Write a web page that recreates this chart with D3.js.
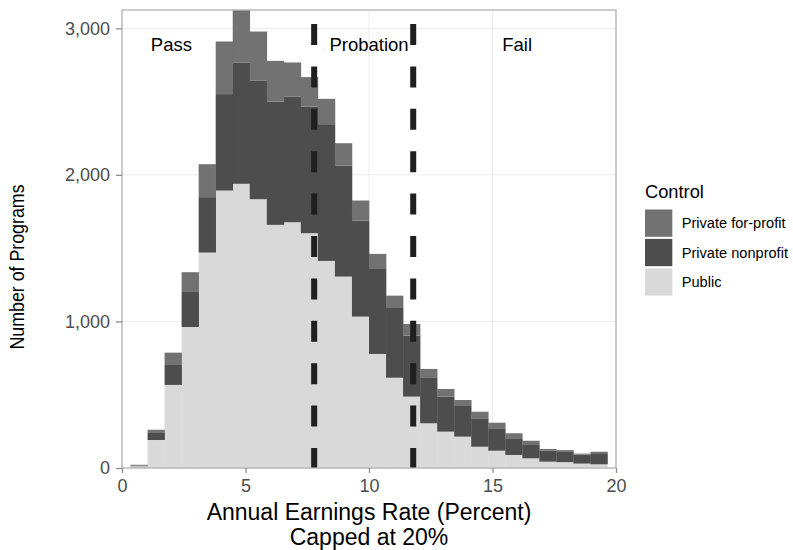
<!DOCTYPE html>
<html>
<head>
<meta charset="utf-8">
<script src="https://cdn.jsdelivr.net/npm/d3@7"></script>
<style>
  body { margin: 0; background: #fff; }
  svg { display: block; font-family: "Liberation Sans", Arial, sans-serif; }
</style>
</head>
<body>
<svg id="chart" width="793" height="550"></svg>
<script>
// ---- data ----
const binStarts = [0.3448, 1.0345, 1.7241, 2.4138, 3.1034, 3.7931, 4.4828, 5.1724, 5.8621, 6.5517,
                   7.2414, 7.9310, 8.6207, 9.3103, 10.0000, 10.6897, 11.3793, 12.0690, 12.7586, 13.4483,
                   14.1379, 14.8276, 15.5172, 16.2069, 16.8966, 17.5862, 18.2759, 18.9655];
const binWidth = 0.68966;
const publicVals    = [12, 191, 567, 962, 1470, 1893, 1939, 1834, 1659, 1677, 1602, 1413, 1306, 1033, 778, 616, 487, 305, 248, 214, 145, 118, 89, 66, 43, 40, 30, 25];
const nonprofitVals = [4, 48, 136, 239, 378, 658, 828, 808, 841, 858, 864, 933, 758, 655, 585, 481, 416, 314, 239, 209, 194, 153, 114, 91, 75, 74, 61, 76];
const forprofitVals = [6, 22, 84, 135, 225, 359, 358, 336, 278, 232, 201, 173, 152, 137, 98, 79, 80, 57, 52, 41, 45, 38, 34, 29, 12, 8, 7, 10];
const seriesNames = ["Public", "Private nonprofit", "Private for-profit"]; // bottom to top
const legendOrder = ["Private for-profit", "Private nonprofit", "Public"];
const colors = {"Private for-profit": "#727272", "Private nonprofit": "#4d4d4d", "Public": "#d9d9d9"};
const thresholds = [7.78, 11.79];
const zoneLabels = [{x: 2, label: "Pass"}, {x: 10, label: "Probation"}, {x: 16, label: "Fail"}];
const zoneLabelY = 2900;
const xTicks = [0, 5, 10, 15, 20];
const yTicks = [0, 1000, 2000, 3000];
const xTitleLines = ["Annual Earnings Rate (Percent)", "Capped at 20%"];
const yTitle = "Number of Programs";

// ---- layout ----
const panel = {left: 122, right: 616, top: 10, bottom: 468};
const svg = d3.select("#chart");

const rows = binStarts.map((s, i) => ({
  x0: s, x1: s + binWidth,
  "Public": publicVals[i],
  "Private nonprofit": nonprofitVals[i],
  "Private for-profit": forprofitVals[i]
}));
const stacked = d3.stack().keys(seriesNames)(rows);
const yMax = d3.max(rows, r => r["Public"] + r["Private nonprofit"] + r["Private for-profit"]);

const x = d3.scaleLinear().domain([0, 20]).range([panel.left, panel.right]);
const y = d3.scaleLinear().domain([0, yMax]).range([panel.bottom, panel.top]);

// grid
const grid = svg.append("g");
grid.selectAll("line.gx").data(xTicks).join("line")
  .attr("x1", d => x(d)).attr("x2", d => x(d))
  .attr("y1", panel.top).attr("y2", panel.bottom)
  .attr("stroke", "#ebebeb").attr("stroke-width", 1);
grid.selectAll("line.gy").data(yTicks).join("line")
  .attr("x1", panel.left).attr("x2", panel.right)
  .attr("y1", d => y(d)).attr("y2", d => y(d))
  .attr("stroke", "#ebebeb").attr("stroke-width", 1);

// clip
svg.append("clipPath").attr("id", "clip").append("rect")
  .attr("x", panel.left).attr("y", panel.top)
  .attr("width", panel.right - panel.left).attr("height", panel.bottom - panel.top);

const plot = svg.append("g").attr("clip-path", "url(#clip)");

// bars
plot.selectAll("g.layer").data(stacked).join("g")
  .attr("fill", d => colors[d.key])
  .selectAll("rect").data(d => d).join("rect")
  .attr("x", d => x(d.data.x0))
  .attr("width", d => x(d.data.x1) - x(d.data.x0) + 0.3)
  .attr("y", d => y(d[1]))
  .attr("height", d => y(d[0]) - y(d[1]));

// dashed thresholds
plot.selectAll("line.th").data(thresholds).join("line")
  .attr("x1", d => x(d)).attr("x2", d => x(d))
  .attr("y1", panel.bottom + 1).attr("y2", panel.top)
  .attr("stroke", "#1f1f1f").attr("stroke-width", 6)
  .attr("stroke-dasharray", "21,21.4");

// zone labels
svg.selectAll("text.zone").data(zoneLabels).join("text")
  .attr("x", d => x(d.x)).attr("y", y(zoneLabelY)).attr("dy", "0.45em")
  .attr("text-anchor", "middle").attr("font-size", 18.5).attr("fill", "#000")
  .text(d => d.label);

// panel border
svg.append("rect")
  .attr("x", panel.left).attr("y", panel.top)
  .attr("width", panel.right - panel.left).attr("height", panel.bottom - panel.top)
  .attr("fill", "none").attr("stroke", "#b3b3b3").attr("stroke-width", 1.3);

// axes
const xAxis = svg.append("g").attr("transform", `translate(0,${panel.bottom})`)
  .call(d3.axisBottom(x).tickValues(xTicks).tickSize(5).tickPadding(6).tickFormat(d3.format("d")));
const yAxis = svg.append("g").attr("transform", `translate(${panel.left},0)`)
  .call(d3.axisLeft(y).tickValues(yTicks).tickSize(6).tickPadding(6).tickFormat(d3.format(",")));
[xAxis, yAxis].forEach(a => {
  a.select(".domain").remove();
  a.selectAll(".tick line").attr("stroke", "#8c8c8c").attr("stroke-width", 1.3);
  a.selectAll(".tick text").attr("fill", "#4d4d4d").attr("font-size", 18)
    .attr("font-family", "Liberation Sans, Arial, sans-serif");
});
xAxis.selectAll(".tick text").attr("dy", "0.71em");

// axis titles
const xMid = (panel.left + panel.right) / 2;
svg.selectAll("text.xtitle").data(xTitleLines).join("text")
  .attr("text-anchor", "middle").attr("font-size", 23).attr("fill", "#000")
  .attr("x", xMid).attr("y", (d, i) => i === 0 ? 519.5 : 545.3)
  .text(d => d);

svg.append("text").attr("text-anchor", "middle").attr("font-size", 17.8).attr("fill", "#000")
  .attr("transform", `translate(23.5,${(panel.top + panel.bottom) / 2 + 28}) rotate(-90) scale(1,1.15)`)
  .text(yTitle);

// legend
const lg = svg.append("g");
lg.append("text").attr("x", 645).attr("y", 198).attr("font-size", 18.3).attr("fill", "#000").text("Control");
const items = lg.selectAll("g.item").data(legendOrder).join("g")
  .attr("transform", (d, i) => `translate(645,${209.5 + i * 29.4})`);
items.append("rect").attr("width", 27.3).attr("height", 27.3).attr("fill", d => colors[d]);
items.append("text").attr("x", 36.7).attr("y", 13.6).attr("dy", "0.36em")
  .attr("font-size", 14.6).attr("fill", "#000").text(d => d);
</script>
</body>
</html>
